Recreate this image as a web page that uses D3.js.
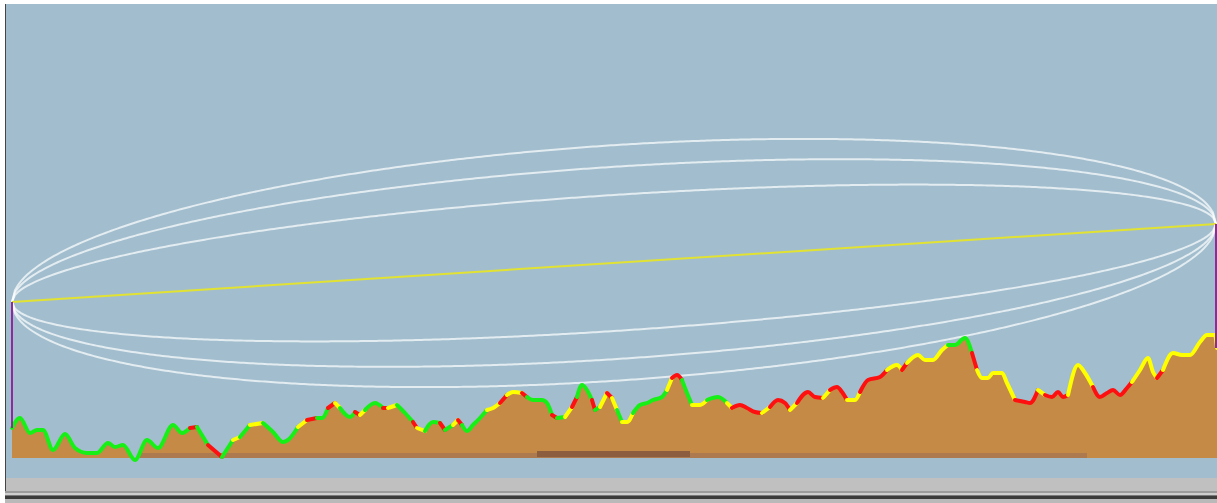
<!DOCTYPE html>
<html><head><meta charset="utf-8">
<script src="https://cdn.jsdelivr.net/npm/d3@7"></script>
<style>html,body{margin:0;padding:0;background:#fff;overflow:hidden}svg{display:block}</style>
</head><body>
<script>
// ---- data ----
const distKm = [0,0.08,0.18,0.25,0.31,0.41,0.53,0.63,0.75,0.85,
0.96,1.03,1.11,1.23,1.35,1.46,1.61,1.70,1.78,1.85,
1.96,2.10,2.21,2.28,2.38,2.51,2.61,2.71,2.76,2.86,
2.95,3.05,3.10,3.16,3.23,3.28,3.38,3.43,3.48,3.53,
3.63,3.71,3.76,3.85,3.93,4.01,4.05,4.13,4.21,4.28,
4.33,4.41,4.46,4.50,4.55,4.61,4.68,4.75,4.81,4.88,
4.95,5.01,5.10,5.15,5.21,5.30,5.35,5.40,5.45,5.53,
5.60,5.65,5.70,5.75,5.80,5.83,5.88,5.95,6.00,6.05,
6.10,6.15,6.21,6.28,6.35,6.41,6.50,6.55,6.60,6.65,
6.70,6.75,6.80,6.88,6.95,7.06,7.15,7.20,7.28,7.35,
7.43,7.50,7.58,7.66,7.73,7.78,7.85,7.96,8.03,8.11,
8.18,8.25,8.30,8.35,8.43,8.48,8.56,8.68,8.75,8.85,
8.90,8.95,9.06,9.13,9.21,9.30,9.36,9.43,9.53,9.60,
9.65,9.70,9.76,9.81,9.90,9.95,10.03,10.13,10.18,10.26,
10.33,10.40,10.46,10.51,10.56,10.66,10.73,10.81,10.88,10.95,
11.01,11.08,11.15,11.20,11.28,11.36,11.41,11.45,11.51,11.61,
11.70,11.78,11.88,11.95,12.03,12.05];
const elevM = [130,140,125,128,128,108,124,110,105,105,
115,111,113,98,118,110,133,125,130,131,
113,101,118,121,133,135,126,116,118,131,
138,140,140,150,155,150,141,146,143,148,
155,150,150,153,145,136,130,127,136,135,
128,133,138,133,127,133,140,148,150,155,
163,166,165,161,158,158,155,143,140,141,
151,161,173,168,158,148,151,165,160,148,
136,136,145,153,155,158,161,168,180,183,
178,165,153,153,158,161,155,150,153,150,
146,145,151,158,155,148,155,166,161,160,
168,171,166,158,158,166,178,181,188,193,
188,195,203,198,198,208,213,213,220,205,
188,180,180,185,185,175,158,156,155,168,
163,161,166,161,163,193,185,171,161,165,
168,163,170,176,188,200,186,180,188,205,
203,203,216,223,223,210];
const clearance = ['g','g','g','g','g','g','g','g','g','g',
'g','g','g','g','g','g','g','g','r','g',
'r','g','y','g','y','g','g','g','g','y',
'r','g','g','r','y','g','g','r','y','g',
'g','r','y','g','g','r','y','g','g','r',
'g','y','r','g','g','g','g','y','y','r',
'y','y','r','g','g','g','g','r','g','y',
'r','g','g','g','r','g','y','r','y','g',
'y','y','g','g','g','g','g','y','r','r',
'g','g','y','y','g','g','y','r','r','r',
'r','y','r','r','r','y','r','r','r','y',
'r','r','r','y','y','r','r','r','y','y',
'r','y','y','y','y','y','g','g','g','r',
'y','y','y','y','y','y','r','r','r','y',
'r','r','r','r','y','y','y','r','r','r',
'r','r','r','y','y','y','y','r','y','y',
'y','y','y','y','y','y'];
const linkLengthKm = 12.04;
const txAntennaElev = 256, rxAntennaElev = 334;
const txGroundElev = 130, rxGroundElev = 210;
const frequencyMHz = 195;
const fresnelZones = [1, 2, 3];
const lowBandKm = [1.28, 10.75];
const darkBandKm = [5.25, 6.78];

// ---- drawing ----
const W = 1217, H = 503;
const svg = d3.select("body").append("svg").attr("width", W).attr("height", H);
const x = d3.scaleLinear().domain([0, 12.05]).range([12, 1217]);
const y = d3.scaleLinear().domain([100, 558]).range([458, 0]);

// window chrome / background
svg.append("rect").attr("x", 6).attr("y", 4).attr("width", W - 6).attr("height", 474).attr("fill", "#a2bece");
svg.append("rect").attr("x", 6).attr("y", 478).attr("width", W - 6).attr("height", 13).attr("fill", "#c0c0c0");
const stripes = [[491,2,"#9c9c9c"],[493,2,"#cfcfcf"],[495,1,"#7a7a7a"],[496,3,"#3c3c3c"],[499,4,"#b9b9b9"]];
stripes.forEach(s => svg.append("rect").attr("x", 5).attr("y", s[0]).attr("width", W - 5).attr("height", s[1]).attr("fill", s[2]));
svg.append("rect").attr("x", 5).attr("y", 4).attr("width", 1).attr("height", 487).attr("fill", "#454545");

// Fresnel zones
const lambda = 299.792 / frequencyMHz;
const Dm = linkLengthKm * 1000;
const losElev = d => txAntennaElev + (rxAntennaElev - txAntennaElev) * d / linkLengthKm;
const samples = d3.range(0, 401).map(i => linkLengthKm * i / 400);
fresnelZones.forEach(n => {
  [-1, 1].forEach(sgn => {
    const line = d3.line()
      .x(d => x(d))
      .y(d => { const d1 = d * 1000, d2 = Dm - d1; const r = Math.sqrt(Math.max(0, n * lambda * d1 * d2 / Dm)); return y(losElev(d) + sgn * r); });
    svg.append("path").attr("d", line(samples)).attr("fill", "none")
      .attr("stroke", "#ffffff").attr("stroke-opacity", 0.7).attr("stroke-width", 2);
  });
});

// line of sight
svg.append("line").attr("x1", x(0)).attr("y1", y(txAntennaElev)).attr("x2", x(linkLengthKm)).attr("y2", y(rxAntennaElev))
  .attr("stroke", "#e2e232").attr("stroke-width", 2);

// terrain
const pts = distKm.map((d, i) => ({d, e: elevM[i], c: clearance[i]}));
const area = d3.area().curve(d3.curveMonotoneX).x(p => x(p.d)).y0(y(100)).y1(p => y(p.e));
svg.append("path").attr("d", area(pts)).attr("fill", "#c68a47");
svg.append("rect").attr("x", x(lowBandKm[0])).attr("y", 453).attr("width", x(lowBandKm[1]) - x(lowBandKm[0])).attr("height", 5)
  .attr("fill", "#ad7a4f");
svg.append("rect").attr("x", x(darkBandKm[0])).attr("y", 451).attr("width", x(darkBandKm[1]) - x(darkBandKm[0])).attr("height", 6)
  .attr("fill", "#8c5d3e");

// clearance-coloured ridge line
const colors = {g: "#16f016", y: "#ffff00", r: "#ff1010"};
const runs = [];
let start = 0;
for (let i = 1; i <= pts.length; i++) {
  if (i === pts.length || pts[i].c !== pts[start].c) {
    runs.push({c: pts[start].c, p: pts.slice(start, Math.min(i + 1, pts.length))});
    start = i;
  }
}
const ridge = d3.line().curve(d3.curveMonotoneX).x(p => x(p.d)).y(p => y(p.e));
svg.selectAll("path.ridge").data(runs).join("path").attr("class", "ridge")
  .attr("d", r => ridge(r.p)).attr("fill", "none").attr("stroke", r => colors[r.c])
  .attr("stroke-width", 4).attr("stroke-linejoin", "round").attr("stroke-linecap", "round");

// antenna masts
svg.append("line").attr("x1", x(0)).attr("x2", x(0)).attr("y1", y(txAntennaElev)).attr("y2", y(txGroundElev))
  .attr("stroke", "#8e2a9e").attr("stroke-width", 2);
svg.append("line").attr("x1", x(linkLengthKm)).attr("x2", x(linkLengthKm)).attr("y1", y(rxAntennaElev)).attr("y2", y(rxGroundElev))
  .attr("stroke", "#8e2a9e").attr("stroke-width", 2);
</script>
</body></html>
